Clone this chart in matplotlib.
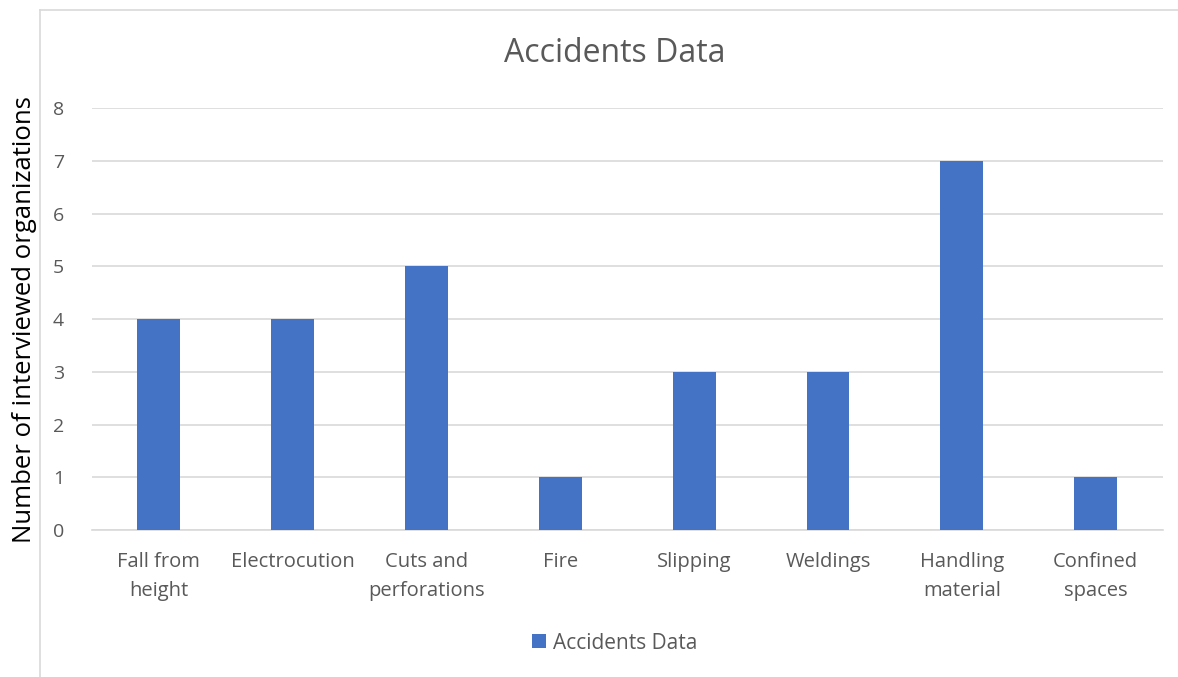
import matplotlib.pyplot as plt
import matplotlib.lines as mlines
import numpy as np

categories = ['Fall from\nheight', 'Electrocution', 'Cuts and\nperforations', 'Fire',
              'Slipping', 'Weldings', 'Handling\nmaterial', 'Confined\nspaces']
counts = [4, 4, 5, 1, 3, 3, 7, 1]
y_ticks = [0, 1, 2, 3, 4, 5, 6, 7, 8]

plt.rcParams['font.family'] = ['Open Sans', 'DejaVu Sans']

fig = plt.figure(figsize=(11.78, 6.77), dpi=100)
ax = fig.add_axes([0.078, 0.217, 0.909, 0.623])

x = np.arange(len(categories))
ax.bar(x, counts, width=0.32, color='#4472c4', label='Accidents Data', zorder=3)

ax.set_xlim(-0.5, len(categories) - 0.5)
ax.set_ylim(0, 8)
ax.set_yticks(y_ticks)
ax.set_xticks(x)
ax.set_xticklabels(categories, fontsize=14.5, color='#595959', linespacing=1.6)
ax.tick_params(axis='y', labelsize=14, labelcolor='#595959', length=0, pad=20)
ax.tick_params(axis='x', length=0, pad=16)
ax.grid(axis='y', color='#d9d9d9', linewidth=1.2, zorder=0)
for side in ['top', 'right', 'left']:
    ax.spines[side].set_visible(False)
ax.spines['bottom'].set_color('#d9d9d9')
ax.spines['bottom'].set_linewidth(1.2)

ax.set_ylabel('Number of interviewed organizations', fontsize=18.5, color='black')
ax.yaxis.set_label_coords(-0.051, 0.5)

fig.text(0.522, 0.921, 'Accidents Data', fontsize=23, color='#595959', ha='center', va='center')

fig.legend(handles=[ax.patches[0]], labels=['Accidents Data'], loc='center',
           bbox_to_anchor=(0.522, 0.05), frameon=False, fontsize=15,
           labelcolor='#595959', handlelength=0.65, handleheight=0.65, handletextpad=0.35)

# chart frame edges
fig.add_artist(mlines.Line2D([0.034, 0.034], [0, 0.985], color='#d9d9d9', linewidth=1.2))
fig.add_artist(mlines.Line2D([0.034, 1.0], [0.985, 0.985], color='#d9d9d9', linewidth=1.2))

fig.savefig('out.png', dpi=100)
